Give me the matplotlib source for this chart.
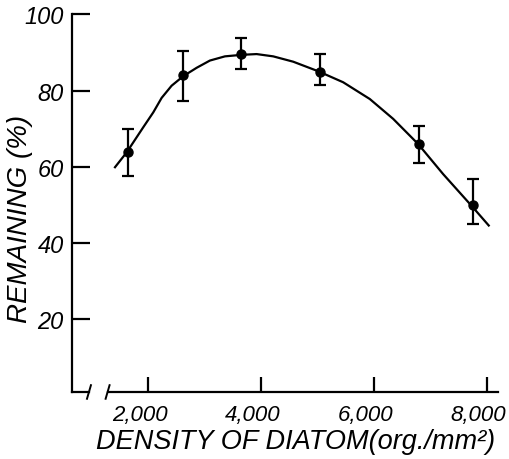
import numpy as np
import matplotlib
matplotlib.use("Agg")
import matplotlib.pyplot as plt
import matplotlib.transforms as mtransforms

# =========================
# DATA
# =========================
density = [1650, 2620, 3650, 5050, 6800, 7750]
remaining = [64, 84, 89.5, 85, 66, 50]
err_low = [6.3, 6.6, 3.7, 3.5, 4.9, 5.0]
err_high = [6.0, 6.5, 4.2, 4.6, 4.6, 6.8]

# hand-drawn fitted curve
curve_x = [1416, 1623, 1917, 2094, 2242, 2419, 2625, 2862, 3097, 3363, 3658,
           3924, 4218, 4572, 5014, 5457, 5929, 6342, 6784, 7227, 7729, 8035]
curve_y = [59.9, 63.8, 70.4, 74.3, 78.1, 81.3, 83.8, 86.0, 87.9, 89.0, 89.4,
           89.6, 89.0, 87.6, 85.1, 82.2, 77.8, 72.6, 66.0, 58.1, 49.8, 44.6]

xticks = [2000, 4000, 6000, 8000]
xtick_labels = ["2,000", "4,000", "6,000", "8,000"]
yticks = [20, 40, 60, 80, 100]

plt.rcParams['font.family'] = ["Liberation Sans", "DejaVu Sans"]
plt.rcParams['font.style'] = 'italic'

fig = plt.figure(figsize=(5.09, 4.6), dpi=100)
ax = fig.add_axes([0.1415, 0.1457, 0.837, 0.8207])

ax.plot(curve_x, curve_y, color="black", lw=1.6)
ax.errorbar(density, remaining, yerr=[err_low, err_high], fmt="o",
            color="black", ms=6.5, elinewidth=1.6, capsize=4.5, capthick=1.6)

ax.set_xlim(655, 8200)
ax.set_ylim(0.9, 100)

# axes look
for s in ["top", "right"]:
    ax.spines[s].set_visible(False)
ax.spines["left"].set_linewidth(1.6)
ax.spines["bottom"].set_linewidth(1.6)
ax.spines["bottom"].set_bounds(1290, 8200)

# axis break on the x axis
tr = ax.get_xaxis_transform()
ax.plot([655, 960], [0, 0], color="black", lw=1.6, transform=tr, clip_on=False)
ax.plot([920, 990], [-0.018, 0.018], color="black", lw=1.4, transform=tr, clip_on=False)
ax.plot([1250, 1320], [-0.018, 0.018], color="black", lw=1.4, transform=tr, clip_on=False)

ax.set_xticks(xticks)
ax.set_xticklabels(xtick_labels)
ax.set_yticks(yticks)

ax.tick_params(axis="y", direction="in", length=13, width=1.6, pad=6, labelsize=17)
ax.tick_params(axis="x", direction="in", length=11, width=1.6, pad=9, labelsize=16)

# hand lettering sits a little left of each tick
shift = mtransforms.ScaledTranslation(-6 / 72, 0, fig.dpi_scale_trans)
for lab in ax.get_xticklabels():
    lab.set_transform(lab.get_transform() + shift)

fig.text(20 / 509, 1 - 219 / 460, "REMAINING (%)", fontsize=20, rotation=90,
         ha="center", va="center", style="italic")
fig.text(296 / 509, 1 - 442 / 460, "DENSITY OF DIATOM(org./mm²)", fontsize=19.5,
         ha="center", va="center", style="italic")

plt.savefig("out.png", dpi=100)
